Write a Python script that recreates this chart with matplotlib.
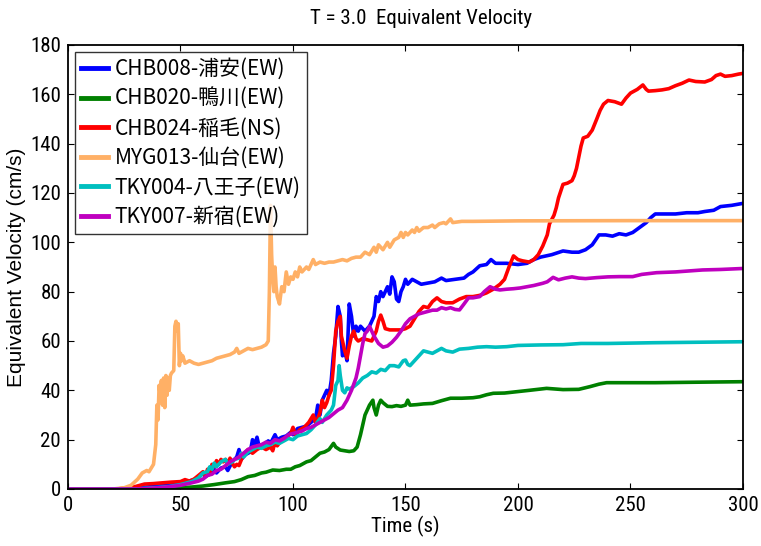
import matplotlib
matplotlib.use("Agg")
import matplotlib.pyplot as plt
from matplotlib import font_manager

# ---- data (time in s, equivalent velocity in cm/s) ----
t_chb008 = [0, 25, 30, 35, 40, 45, 50, 55, 58, 60, 61, 63, 65, 66, 68, 70, 71, 73, 75, 76, 77, 79, 81, 82, 83, 84, 85, 87, 89, 90,
            92, 93, 95, 97, 99, 100, 102, 104, 106, 108, 110, 111, 112, 113, 114, 115, 116, 117, 118, 119, 120, 121, 121.5, 122,
            123, 124, 125, 126, 127, 128, 129, 130, 132, 134, 136, 137, 138, 139, 140, 141, 142, 143, 144, 145, 146, 147, 148,
            149, 150, 151, 153, 155, 157, 160, 163, 166, 168, 172, 176, 178, 180, 183, 186, 188, 190, 195, 200, 204, 207, 210,
            215, 220, 224, 227, 230, 233, 236, 239, 242, 245, 248, 251, 254, 257, 259, 261, 265, 270, 275, 280, 283, 287, 290,
            295, 300]
v_chb008 = [0, 0, 0.3, 0.8, 1.2, 1.8, 2.5, 3.5, 4.5, 6.5, 5, 6, 8, 6.5, 8.5, 9, 7.5, 11, 13, 16, 12, 14, 15, 20, 18, 21, 17, 18,
            19.5, 18.5, 22, 20, 21, 21.5, 23, 22, 24.5, 25, 25.5, 27, 28.5, 34, 30, 36, 38, 40, 38, 44, 55, 62, 74, 70, 60, 54,
            56, 52, 75, 70, 62, 66, 64, 66, 64, 66, 70, 78, 76, 80, 78, 80, 82, 79, 86, 84, 77, 76, 80, 82, 85, 83, 85, 84, 83,
            83.5, 84, 85.5, 84.5, 85, 85.5, 87, 88, 90.5, 91, 93, 91.5, 91.5, 91, 91.5, 93, 94, 95, 96.5, 96, 96, 97, 99, 103,
            103, 102.5, 103.5, 103, 104, 106, 108, 110, 111.5, 111.5, 111.5, 112, 112, 112.5, 113, 114.5, 115, 115.8]

t_chb020 = [0, 40, 45, 50, 55, 60, 65, 70, 74, 77, 80, 83, 86, 88, 91, 94, 97, 99, 101, 103, 106, 108, 110, 112, 114, 116, 118,
            119, 121, 123, 125, 127, 128.5, 130, 131, 132, 133, 134, 135.5, 136, 137, 138, 139, 140, 142, 144, 146, 148, 150,
            151, 152, 155, 158, 162, 166, 170, 175, 180, 183, 186, 189, 194, 199, 205, 212.7, 220, 227, 232, 236, 239.4, 250,
            261, 280, 300]
v_chb020 = [0, 0, 0.2, 0.5, 0.8, 1.2, 1.8, 2.5, 3, 3.8, 5, 5.5, 6.5, 6.8, 7.7, 7.5, 8, 8, 9, 9.5, 11, 11.5, 13, 14.5, 15, 16,
            18.5, 17, 15.8, 15.5, 15.2, 15.5, 17, 22, 26, 30, 32, 34, 36, 33, 30, 34, 36, 35, 33.5, 33.4, 33.8, 33.5, 34, 36,
            34, 34.2, 34.5, 34.7, 35.8, 36.8, 36.8, 37, 37.4, 38.2, 38.8, 38.9, 39.4, 40, 40.8, 40.3, 40.4, 41.5, 42.5, 43.1,
            43.1, 43.1, 43.3, 43.5]

t_chb024 = [0, 22, 26, 30, 34, 38, 42, 46, 50, 52, 54, 56, 58, 60, 61, 62, 63, 64, 65, 66, 67, 68, 69, 70, 71, 72, 73, 74, 75,
            76, 78, 80, 82, 84, 86, 88, 90, 91, 92, 93, 95, 97, 99, 100, 101, 103, 105, 107, 109, 110, 111, 112, 113, 114, 115,
            116, 117, 118, 119, 120, 121, 121.5, 122, 123, 124, 125, 126, 127, 128, 129, 131, 133, 135, 137, 138, 139, 140, 141,
            143, 146, 148, 150, 152, 154, 156, 158, 160, 162, 164, 166, 168, 171, 174, 177, 180, 183, 186, 189, 192, 194, 196,
            198, 200, 202, 205, 207, 209, 211, 213, 214, 216, 217, 218, 220, 222, 224, 225, 226, 228, 229, 231, 233, 235,
            236.5, 238, 240, 243, 246, 248, 250, 253, 255.5, 257, 258, 261, 264, 267, 270, 273, 276, 279, 283, 286, 288, 290,
            292, 295, 298, 300]
v_chb024 = [0, 0, 0.5, 1, 2, 2.2, 2.5, 2.8, 3, 3.8, 3.2, 4, 5.5, 7, 5, 8, 6.5, 10, 9, 11.5, 10, 12, 11, 12, 10, 12.5, 10.5, 9,
            10, 9.5, 14, 16, 14.5, 16, 17, 16, 17, 15.5, 19, 17.5, 20, 21, 22.5, 25, 22, 24, 25, 27, 30, 27, 28.5, 31, 36, 33,
            35, 38, 40, 50, 64, 68, 70, 62, 60, 56, 53, 58, 62, 64, 61, 60, 61, 60.5, 60, 64, 68, 70.5, 68, 65, 64.5, 64.5,
            64.5, 65, 66, 69, 72, 74, 73.5, 76, 77.5, 76, 75.5, 75.5, 77, 78, 78, 78.5, 79.5, 81, 83, 85, 90, 94.5, 93, 92.5,
            92, 93, 95, 98.5, 103, 107.5, 111, 114, 118, 123.5, 124, 125, 127, 130, 139, 142.3, 143, 145.5, 150, 153.5, 156,
            157.5, 157, 156, 158.5, 160.5, 162, 163.8, 162, 161.3, 161.5, 161.8, 162.3, 163.5, 164.5, 165.8, 165.2, 165, 166,
            167.6, 168.2, 167.3, 167.6, 168.2, 168.5]

t_myg013 = [0, 20, 25, 28, 31, 33, 35, 36, 37, 38, 39, 39.5, 40, 40.5, 41, 41.5, 42, 42.5, 43, 43.5, 44, 44.5, 45, 45.5, 46,
            47, 47.5, 48, 48.5, 49, 49.5, 50, 50.5, 51, 52, 54, 56, 58, 60, 62, 64, 66, 68, 70, 72, 74, 75, 76, 78, 80, 82, 84,
            86, 88, 89, 89.5, 90, 90.5, 91, 91.5, 92, 92.5, 93, 94, 95, 96, 97, 98, 99, 100, 101, 102, 103, 104, 105, 106, 107,
            108, 109, 110, 112, 114, 116, 118, 120, 122, 124, 126, 128, 130, 132, 134, 136, 137, 138, 140, 142, 143, 145, 147,
            148, 149, 150, 151, 153, 154, 155, 156, 158, 160, 162, 163, 165, 167, 168, 170, 171, 175, 180, 200, 250, 300]
v_myg013 = [0, 0, 0.5, 1.5, 4, 6.5, 7.5, 7, 8.5, 10, 18, 34, 28, 42, 38, 44, 34, 45, 33, 46, 38, 45, 40, 46, 47, 48, 66, 68,
            64, 67, 50, 55, 52, 54, 51, 52, 51, 50.5, 51, 51.5, 52, 53, 53.5, 54, 54.5, 55.5, 57, 55, 56, 57, 56.5, 57, 57.5,
            58.5, 60, 80, 115, 95, 85, 80, 90, 82, 78, 75, 82, 80, 88, 83, 86, 85, 88, 86, 90, 88, 89, 90, 89, 91, 93, 91, 92,
            91.5, 92, 92, 92.5, 93, 92.5, 93.5, 94, 94, 96, 95, 98, 96, 99, 97, 100, 98, 101, 102, 104, 102, 104, 103, 105,
            104, 106, 104.5, 106, 106, 107, 106, 107.5, 108, 107.5, 109.5, 108, 108.5, 108.5, 108.7, 108.8, 108.8]

t_tky004 = [0, 30, 35, 40, 45, 50, 55, 58, 60, 62, 63, 64, 65, 66, 68, 70, 71, 73, 74, 76, 77, 78, 80, 82, 84, 86, 88, 90, 92,
            94, 96, 98, 100, 102, 104, 106, 108, 110, 112, 113, 115, 117, 118, 119, 120, 120.5, 121, 122, 123, 124, 125, 127,
            129, 131, 133, 135, 137, 139, 141, 143, 145, 147, 149, 150, 151, 152, 154, 156, 158, 160, 162, 164, 166, 168, 171,
            174, 178, 182, 186, 190, 195, 200, 210, 220, 228, 240, 260, 280, 300]
v_tky004 = [0, 0, 0.3, 0.6, 1, 1.8, 3, 4.5, 6.5, 7, 9, 8, 10.5, 9, 11, 12, 10, 11, 12, 12.5, 14.5, 13, 15, 16, 17, 16.5, 17.5,
            18, 19, 18.5, 19.5, 20.5, 20, 21.5, 22, 22.5, 24, 26, 28.5, 27, 30, 32, 34, 42, 44, 50, 46, 40, 39, 41, 40.5, 41.5,
            43, 45, 46, 47.5, 47, 48.5, 48, 50, 50, 49.5, 52, 52.3, 50.5, 50, 52, 54, 56, 55.5, 55, 56, 57, 56, 55.5, 56.7, 57,
            57.5, 57.7, 57.5, 57.7, 58.2, 58.4, 58.5, 59, 59, 59.3, 59.5, 59.7]

t_tky007 = [0, 30, 35, 40, 45, 50, 55, 58, 60, 62, 64, 66, 68, 70, 72, 74, 76, 78, 80, 82, 84, 86, 88, 90, 92, 94, 96, 98, 100,
            102, 104, 106, 108, 110, 112, 114, 116, 118, 120, 122, 124, 126, 128, 129, 130, 131, 132, 133, 134, 135, 136, 138,
            140, 142, 144, 146, 148, 150, 152, 154, 156, 158, 160, 162, 164, 166, 168, 170, 172, 174, 176, 178, 180, 183, 185,
            187.6, 190, 192, 195, 198, 201, 204, 207, 211, 213, 215.6, 218, 221, 224, 227, 230, 235, 240, 245, 251, 255, 261.6,
            270, 282, 290, 300]
v_tky007 = [0, 0, 0.2, 0.5, 0.9, 1.5, 2.5, 3.2, 4, 5.5, 6, 7.5, 8, 9.5, 11, 12, 13, 14.5, 16, 17, 17.5, 18, 19, 18.5, 20, 19.5,
            20.5, 22, 22.5, 23, 23.5, 24.5, 25, 26, 27, 28, 29, 30.5, 32, 33, 36, 40, 45, 49, 54, 59, 63, 64, 66, 64, 62, 59,
            57.5, 58, 59.5, 61.5, 64, 67, 69, 70, 71, 71.5, 72, 72.5, 72.5, 73.5, 73, 73.5, 72.8, 72.6, 75, 77.5, 77.5, 78, 80,
            82, 81, 80.7, 81, 81.2, 81.5, 82, 82.5, 83.4, 84, 85.8, 84.8, 85.5, 86, 85.5, 85.3, 85.7, 86, 86.1, 86.1, 87, 87.7,
            88, 88.8, 89, 89.4]

labels = ["CHB008-浦安(EW)", "CHB020-鴨川(EW)", "CHB024-稲毛(NS)",
          "MYG013-仙台(EW)", "TKY004-八王子(EW)", "TKY007-新宿(EW)"]
colors = ["#0000ff", "#008000", "#ff0000", "#ffb066", "#00bfbf", "#bf00bf"]

series = [(t_chb008, v_chb008), (t_chb020, v_chb020), (t_chb024, v_chb024),
          (t_myg013, v_myg013), (t_tky004, v_tky004), (t_tky007, v_tky007)]

# pick a condensed face for ticks / title, like the MATLAB original
installed = {f.name for f in font_manager.fontManager.ttflist}
narrow_name = None
for cand in ["Liberation Sans Narrow", "DejaVu Sans Condensed", "Roboto Condensed", "Open Sans Condensed"]:
    if cand in installed:
        narrow_name = cand
        break
if narrow_name is None:
    narrow = ["Liberation Sans", "DejaVu Sans"]
    nsize = 14
else:
    narrow = [narrow_name, "DejaVu Sans"]
    nsize = 15

fig = plt.figure(figsize=(7.61, 5.46), dpi=100)
ax = fig.add_axes([68 / 761, 57 / 546, 675 / 761, 444 / 546])

for (t, v), c, lab in zip(series, colors, labels):
    ax.plot(t, v, color=c, lw=2.6, label=lab, solid_joinstyle="round")

ax.set_xlim(0, 300)
ax.set_ylim(0, 180)
ax.set_xticks(range(0, 301, 50))
ax.set_yticks(range(0, 181, 20))
ax.tick_params(direction="in", length=4, width=0.8, top=True, right=True, pad=5)
for lbl in ax.get_xticklabels() + ax.get_yticklabels():
    lbl.set_family(narrow)
    lbl.set_fontsize(nsize)
for s in ax.spines.values():
    s.set_linewidth(1.3)

ax.set_xlabel("Time (s)", family=narrow, fontsize=nsize, labelpad=1)
ax.set_ylabel("Equivalent Velocity (cm/s)", family=["Liberation Sans", "DejaVu Sans"], fontsize=15, labelpad=3)
fig.text(421 / 761, 1 - 18 / 546, "T = 3.0  Equivalent Velocity", family=narrow, fontsize=nsize,
         ha="center", va="center")

leg = ax.legend(loc="upper left", bbox_to_anchor=(75 / 761, 1 - 52 / 546), bbox_transform=fig.transFigure,
                prop={"family": ["Noto Sans CJK JP", "DejaVu Sans"], "size": 15},
                frameon=True, fancybox=False, borderaxespad=0, handlelength=1.3, handletextpad=0.3,
                labelspacing=0.36, borderpad=0.3)
leg.get_frame().set_edgecolor("black")
leg.get_frame().set_linewidth(1.0)
for h in leg.get_lines():
    h.set_linewidth(3.5)

fig.savefig("out.png", dpi=100)
